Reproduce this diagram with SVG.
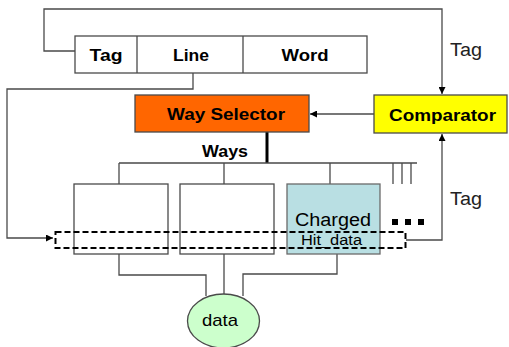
<svg xmlns="http://www.w3.org/2000/svg" width="509" height="347" viewBox="0 0 509 347">
  <style>
    .wire { fill: none; stroke: #4a4a4a; stroke-width: 1.3; }
    .box { stroke: #4a4a4a; stroke-width: 1.3; }
    .lbl { font-family: "Liberation Sans", Arial, sans-serif; fill: #000; }
    .b { font-weight: bold; font-size: 17px; }
    .n { font-weight: normal; font-size: 18px; fill: #222; }
  </style>
  <defs>
    <marker id="arr" viewBox="0 0 10 10" refX="10" refY="5" markerWidth="7" markerHeight="7" markerUnits="userSpaceOnUse" orient="auto">
      <path d="M0,0 L10,5 L0,10 z" fill="#000"/>
    </marker>
  </defs>

  <rect width="509" height="347" fill="#fff"/>

  <!-- connectors -->
  <g id="connectors">
    <!-- tag field looped to comparator -->
    <path class="wire" d="M75,51 H44 V9 H442 V94" marker-end="url(#arr)"/>
    <!-- line field down to the set row -->
    <path class="wire" d="M193,73 V89 H7 V238 H53" marker-end="url(#arr)"/>
    <!-- comparator to way selector -->
    <path class="wire" d="M374,114 H310" marker-end="url(#arr)"/>
    <!-- stored tag back to comparator -->
    <path class="wire" d="M406,240 H442 V134" marker-end="url(#arr)"/>
    <!-- ways bus -->
    <line x1="267" y1="132" x2="267" y2="163" stroke="#000" stroke-width="3"/>
    <path class="wire" d="M119,163 H417 M119,163 V184 M224,163 V184 M330,163 V184 M393,163 V184 M402,163 V184 M411,163 V184"/>
    <!-- outputs to data -->
    <path class="wire" d="M119,254 V275 H206 V296"/>
    <path class="wire" d="M224,254 V294"/>
    <path class="wire" d="M337,254 V274 H243 V296"/>
  </g>

  <!-- address fields -->
  <g id="address">
    <rect class="box" x="75" y="36" width="292" height="37" fill="#fff"/>
    <line class="wire" x1="137" y1="36" x2="137" y2="73"/>
    <line class="wire" x1="243" y1="36" x2="243" y2="73"/>
    <text class="lbl b" x="106" y="61" text-anchor="middle" textLength="33" lengthAdjust="spacingAndGlyphs">Tag</text>
    <text class="lbl b" x="191" y="61" text-anchor="middle" textLength="36" lengthAdjust="spacingAndGlyphs">Line</text>
    <text class="lbl b" x="305" y="61" text-anchor="middle" textLength="47" lengthAdjust="spacingAndGlyphs">Word</text>
  </g>

  <g id="way-selector">
    <rect class="box" x="135" y="95" width="174" height="37" fill="#ff6600"/>
    <text class="lbl b" x="226" y="120" text-anchor="middle" textLength="118" lengthAdjust="spacingAndGlyphs">Way Selector</text>
  </g>

  <g id="comparator">
    <rect class="box" x="374" y="95" width="133" height="38" fill="#ffff00"/>
    <text class="lbl b" x="442.5" y="121" text-anchor="middle" textLength="107" lengthAdjust="spacingAndGlyphs">Comparator</text>
  </g>

  <g id="labels">
    <text class="lbl b" x="225" y="157" text-anchor="middle" textLength="46" lengthAdjust="spacingAndGlyphs">Ways</text>
    <text class="lbl n" x="466" y="56" text-anchor="middle" textLength="32" lengthAdjust="spacingAndGlyphs">Tag</text>
    <text class="lbl n" x="466" y="205" text-anchor="middle" textLength="32" lengthAdjust="spacingAndGlyphs">Tag</text>
  </g>

  <g id="way-1">
    <rect class="box" x="74" y="184" width="94" height="70" fill="#fff"/>
  </g>
  <g id="way-2">
    <rect class="box" x="180" y="184" width="94" height="70" fill="#fff"/>
  </g>
  <g id="way-3">
    <rect x="287" y="184" width="93" height="70" fill="#b9dfe3" stroke="#6a6a6a" stroke-width="1.3"/>
    <text class="lbl" x="333" y="226" text-anchor="middle" font-size="18" fill="#222" textLength="76" lengthAdjust="spacingAndGlyphs">Charged</text>
    <text class="lbl" x="331.5" y="245" text-anchor="middle" font-size="14" fill="#222" textLength="61" lengthAdjust="spacingAndGlyphs">Hit_data</text>
  </g>

  <!-- more ways -->
  <g id="more">
    <rect x="392" y="219" width="6" height="6" fill="#000"/>
    <rect x="405" y="219" width="6" height="6" fill="#000"/>
    <rect x="418" y="219" width="6" height="6" fill="#000"/>
  </g>

  <!-- selected set row -->
  <g id="set-row">
    <rect x="55.5" y="232" width="350" height="16" fill="none" stroke="#000" stroke-width="2" stroke-dasharray="6,3"/>
  </g>

  <g id="data">
    <ellipse cx="223.5" cy="321" rx="36" ry="27" fill="#ccffcc" stroke="#4a4a4a" stroke-width="1.3"/>
    <text class="lbl" x="220" y="326" text-anchor="middle" font-size="17" fill="#222" textLength="36" lengthAdjust="spacingAndGlyphs">data</text>
  </g>
</svg>
